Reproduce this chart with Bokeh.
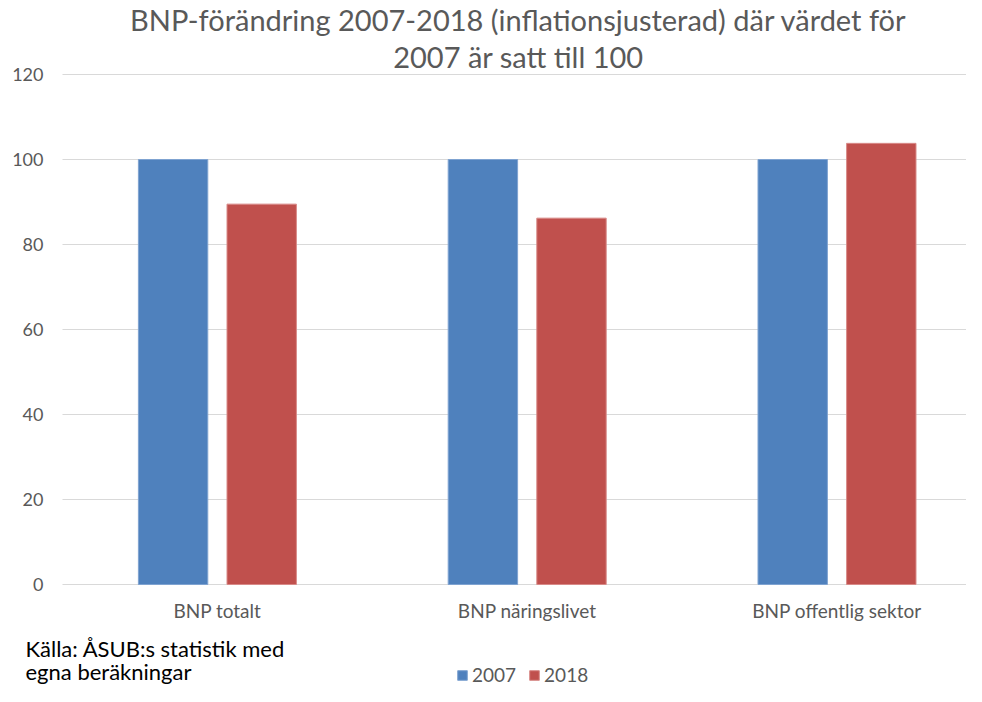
from bokeh.plotting import figure
from bokeh.models import Range1d, FixedTicker, ColumnDataSource, Legend, LegendItem, Label, Grid
from bokeh.embed import file_html
from bokeh.resources import INLINE
import numpy as np

categories = ["BNP totalt", "BNP näringslivet", "BNP offentlig sektor"]
series_names = ["2007", "2018"]
values_2007 = [100, 100, 100]
values_2018 = [89.5, 86.2, 103.8]
y_ticks = [0, 20, 40, 60, 80, 100, 120]
title_lines = ["BNP-förändring 2007-2018 (inflationsjusterad) där värdet för",
               "2007 är satt till 100"]
source_lines = ["Källa: ÅSUB:s statistik med", "egna beräkningar"]

BLUE = "#4F81BD"
RED = "#C0504D"
BLUE_EDGE = "#7FA3D1"
RED_EDGE = "#D88A88"
GREY_TXT = "#595959"
GRID = "#D9D9D9"
FONT = "Lato"

W, H = 966, 686
# plotting area (px): left edge 62, value 120 at 74, value 0 at 584
FL, FT, FB = 62, 74, 584
PX_X = 309.8                      # px per category
PX_Y = (FB - FT) / 120.0          # px per unit

# the frame covers the whole canvas; axes sit at fixed locations inside it
p = figure(width=W, height=H, output_backend="svg", toolbar_location=None,
           title_location=None,
           x_range=Range1d(-FL / PX_X, (W - FL) / PX_X),
           y_range=Range1d(-(H - FB) / PX_Y, FB / PX_Y),
           min_border=0, min_border_left=0, min_border_right=0,
           min_border_top=0, min_border_bottom=0)
p.outline_line_color = None
p.background_fill_color = "white"
p.border_fill_color = "white"

centers = np.arange(len(categories)) + 0.5
off = 0.143
bw = 0.224
src = ColumnDataSource(dict(x1=centers - off, x2=centers + off,
                            v1=values_2007, v2=values_2018))
r1 = p.vbar(x="x1", top="v1", bottom=0, width=bw, source=src,
            fill_color=BLUE, line_color=BLUE_EDGE, line_width=1, level="overlay")
r2 = p.vbar(x="x2", top="v2", bottom=0, width=bw, source=src,
            fill_color=RED, line_color=RED_EDGE, line_width=1, level="overlay")

# y axis
p.yaxis.fixed_location = 0
p.yaxis.ticker = FixedTicker(ticks=y_ticks)
p.yaxis.axis_line_color = None
p.yaxis.major_tick_line_color = None
p.yaxis.minor_tick_line_color = None
p.yaxis.major_tick_out = 0
p.yaxis.major_tick_in = 0
p.yaxis.major_label_standoff = 19
p.yaxis.major_label_text_font = FONT
p.yaxis.major_label_text_font_size = "18px"
p.yaxis.major_label_text_color = GREY_TXT

# x axis (category labels)
p.xaxis.fixed_location = 0
p.xaxis.ticker = FixedTicker(ticks=list(centers))
p.xaxis.major_label_overrides = {float(c): lab for c, lab in zip(centers, categories)}
p.xaxis.axis_line_color = None
p.xaxis.major_tick_line_color = None
p.xaxis.minor_tick_line_color = None
p.xaxis.major_tick_out = 0
p.xaxis.major_tick_in = 0
p.xaxis.major_label_standoff = 14
p.xaxis.major_label_text_font = FONT
p.xaxis.major_label_text_font_size = "19px"
p.xaxis.major_label_text_color = GREY_TXT

# horizontal gridlines, starting at the value axis
p.xgrid.grid_line_color = None
p.ygrid.grid_line_color = GRID
p.ygrid.grid_line_width = 1
if "cross_bounds" in Grid.properties():
    p.ygrid.cross_bounds = (0, (W - FL) / PX_X)
else:
    p.ygrid.grid_line_color = None
    p.segment(x0=0, x1=(W - FL) / PX_X, y0=y_ticks, y1=y_ticks,
              line_color=GRID, line_width=1)

def lab(text, X, Y, size, color, align="left"):
    # X: px from left, Y: px from top
    p.add_layout(Label(x=X, y=H - Y, x_units="screen", y_units="screen",
                       text=text, text_align=align, text_baseline="alphabetic",
                       text_font=FONT, text_font_size=size, text_color=color))

lab(title_lines[0], 518, 19, "29px", GREY_TXT, "center")
lab(title_lines[1], 518, 56, "29px", GREY_TXT, "center")
lab(source_lines[0], 25, 648, "22px", "black")
lab(source_lines[1], 25, 671, "22px", "black")

legend = Legend(items=[LegendItem(label=series_names[0], renderers=[r1]),
                       LegendItem(label=series_names[1], renderers=[r2])],
                orientation="horizontal", location=(456, 0),
                glyph_width=12, glyph_height=12, label_standoff=4, spacing=12,
                padding=0, margin=0, border_line_color=None,
                background_fill_alpha=0, label_text_font=FONT,
                label_text_font_size="19px", label_text_color=GREY_TXT,
                label_height=20)
p.add_layout(legend)

open("out.html", "w").write(file_html(p, INLINE))
